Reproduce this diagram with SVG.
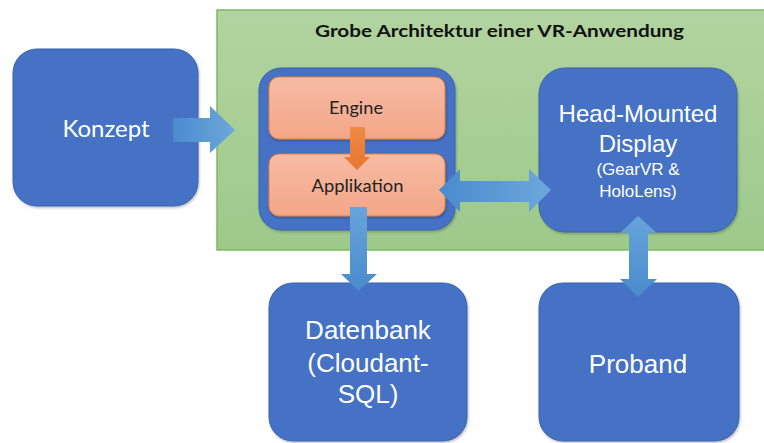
<svg xmlns="http://www.w3.org/2000/svg" width="764" height="443" viewBox="0 0 764 443">
  <defs>
    <linearGradient id="gGreen" x1="0" y1="0" x2="0" y2="1">
      <stop offset="0" stop-color="#B2D4A0"/>
      <stop offset="1" stop-color="#9DC98A"/>
    </linearGradient>
    <linearGradient id="gSalmon" x1="0" y1="0" x2="0" y2="1">
      <stop offset="0" stop-color="#F6BCA4"/>
      <stop offset="1" stop-color="#F3A687"/>
    </linearGradient>
    <linearGradient id="gArrowH" x1="0" y1="0" x2="1" y2="0">
      <stop offset="0" stop-color="#4A8BCD"/>
      <stop offset="1" stop-color="#6CA8DC"/>
    </linearGradient>
    <linearGradient id="gArrowV" x1="0" y1="0" x2="0" y2="1">
      <stop offset="0" stop-color="#66A4DA"/>
      <stop offset="1" stop-color="#4A8BCD"/>
    </linearGradient>
    <linearGradient id="gOrange" x1="0" y1="0" x2="0" y2="1">
      <stop offset="0" stop-color="#F08A45"/>
      <stop offset="1" stop-color="#E9752C"/>
    </linearGradient>
    <filter id="sh" x="-10%" y="-10%" width="130%" height="130%">
      <feDropShadow dx="1" dy="1.5" stdDeviation="1.2" flood-color="#000" flood-opacity="0.25"/>
    </filter>
  </defs>
  <style>
    .blue { fill: #4472C4; stroke: #3A64AE; stroke-width: 1; }
    .salmon { fill: url(#gSalmon); stroke: #ED7D31; stroke-width: 1; }
    .wt { fill: #FFFFFF; font-family: "Liberation Sans", Arial, sans-serif; text-anchor: middle; }
    .ct { font-family: Lato, "Open Sans", sans-serif; text-anchor: middle; }
  </style>
  <rect width="764" height="443" fill="#FFFFFF"/>

  <g id="vr-architektur">
    <rect x="217" y="10" width="560" height="240" fill="url(#gGreen)" stroke="#7FB864" stroke-width="1.5"/>
    <text x="499.5" y="37" class="ct" font-size="17" font-weight="bold" fill="#111111" textLength="369" lengthAdjust="spacingAndGlyphs">Grobe Architektur einer VR-Anwendung</text>
  </g>

  <g id="konzept">
    <rect x="13" y="49" width="185" height="157" rx="24" class="blue" filter="url(#sh)"/>
    <text x="106" y="137" class="ct" font-size="23" fill="#FFFFFF" textLength="87" lengthAdjust="spacingAndGlyphs">Konzept</text>
  </g>

  <g id="anwendung">
    <rect x="259" y="68" width="196" height="162" rx="22" class="blue" filter="url(#sh)"/>
  </g>

  <g id="engine">
    <rect x="269" y="77" width="176" height="62" rx="10" class="salmon" filter="url(#sh)"/>
    <text x="356" y="114" class="ct" font-size="17.5" fill="#222222" textLength="54" lengthAdjust="spacingAndGlyphs">Engine</text>
  </g>

  <g id="applikation">
    <rect x="269" y="154" width="176" height="62" rx="10" class="salmon" filter="url(#sh)"/>
    <text x="357.5" y="192" class="ct" font-size="17.5" fill="#222222" textLength="92" lengthAdjust="spacingAndGlyphs">Applikation</text>
  </g>

  <g id="hmd">
    <rect x="539" y="68" width="198" height="164" rx="26" class="blue" filter="url(#sh)"/>
    <text x="638" y="122" class="wt" font-size="24">Head-Mounted</text>
    <text x="638" y="152" class="wt" font-size="24">Display</text>
    <text x="638" y="175" class="wt" font-size="17">(GearVR &amp;</text>
    <text x="638" y="197" class="wt" font-size="17">HoloLens)</text>
  </g>

  <g id="datenbank">
    <rect x="269" y="283" width="198" height="158" rx="24" class="blue" filter="url(#sh)"/>
    <text x="368" y="339" class="wt" font-size="26">Datenbank</text>
    <text x="368" y="372" class="wt" font-size="26">(Cloudant-</text>
    <text x="368" y="403" class="wt" font-size="26">SQL)</text>
  </g>

  <g id="proband">
    <rect x="539" y="283" width="200" height="158" rx="24" class="blue" filter="url(#sh)"/>
    <text x="638" y="373" class="wt" font-size="26">Proband</text>
  </g>

  <g id="connectors">
    <polygon points="173,118 210,118 210,106 235,130 210,153 210,142 173,142" fill="url(#gArrowH)"/>
    <polygon points="350,127 365,127 365,157 370,157 357,170 344,157 350,157" fill="url(#gOrange)"/>
    <polygon points="439,190 460,169 460,181 529,181 529,169 551,190 529,212 529,202 460,202 460,212" fill="url(#gArrowH)"/>
    <polygon points="350,207 367,207 367,274 377,274 358.5,291 341,274 350,274" fill="url(#gArrowV)"/>
    <polygon points="638,216 657,233 648,233 648,279 657,279 638,297 620,279 629,279 629,233 620,233" fill="url(#gArrowV)"/>
  </g>
</svg>
